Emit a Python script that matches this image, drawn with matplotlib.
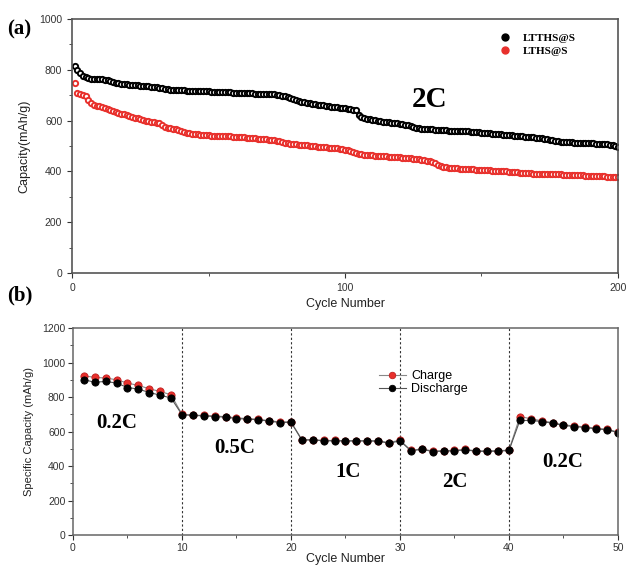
import matplotlib
matplotlib.use('Agg')
import matplotlib.pyplot as plt
import numpy as np
from matplotlib.ticker import MultipleLocator

# ---- panel (a) data: 2C long cycling ----
cycles_a = np.arange(1, 201)
ltths = [815, 800, 787, 777, 770, 766, 764, 763, 763, 762,
         762, 761, 758, 754, 751, 749, 747, 746, 745, 744,
         742, 741, 740, 739, 738, 737, 736, 735, 734, 733,
         731, 729, 727, 725, 723, 722, 721, 720, 720, 719,
         719, 718, 718, 717, 717, 716, 716, 716, 715, 715,
         714, 714, 713, 713, 712, 712, 711, 711, 710, 710,
         709, 709, 708, 708, 707, 707, 706, 706, 705, 705,
         704, 704, 703, 703, 702, 700, 698, 695, 692, 689,
         686, 682, 678, 675, 673, 671, 669, 667, 665, 663,
         662, 660, 658, 657, 655, 653, 652, 650, 649, 648,
         646, 645, 643, 640, 622, 615, 611, 608, 605, 603,
         601, 599, 598, 596, 595, 593, 592, 590, 589, 587,
         585, 583, 581, 578, 575, 572, 570, 568, 567, 566,
         565, 565, 564, 563, 563, 562, 562, 561, 561, 560,
         560, 559, 559, 558, 558, 557, 556, 555, 554, 553,
         552, 551, 550, 549, 548, 547, 546, 545, 544, 543,
         542, 541, 540, 539, 538, 537, 536, 535, 534, 533,
         532, 530, 528, 526, 524, 522, 520, 518, 517, 516,
         515, 514, 514, 513, 513, 512, 512, 511, 511, 510,
         510, 509, 509, 508, 507, 506, 504, 502, 500, 497]
lths = [749, 707, 706, 702, 695, 680, 668, 662, 659, 656,
        653, 650, 646, 642, 638, 634, 630, 627, 625, 622,
        618, 614, 611, 609, 607, 604, 600, 597, 595, 593,
        591, 589, 584, 575, 570, 569, 567, 565, 562, 558,
        555, 552, 550, 548, 547, 546, 545, 544, 543, 542,
        541, 541, 540, 540, 539, 539, 538, 538, 537, 537,
        536, 535, 534, 533, 532, 531, 530, 529, 528, 527,
        526, 525, 524, 523, 521, 519, 516, 513, 510, 508,
        507, 506, 505, 504, 503, 502, 501, 500, 499, 498,
        497, 496, 495, 494, 493, 492, 491, 490, 488, 486,
        483, 480, 476, 472, 469, 467, 466, 465, 464, 463,
        462, 461, 460, 460, 459, 458, 457, 456, 455, 455,
        454, 453, 452, 451, 450, 449, 448, 446, 444, 442,
        440, 437, 432, 426, 421, 418, 416, 415, 414, 413,
        412, 411, 411, 410, 410, 409, 408, 407, 406, 405,
        405, 404, 404, 403, 403, 402, 402, 401, 400, 399,
        398, 397, 396, 395, 394, 393, 392, 392, 391, 391,
        390, 390, 390, 389, 389, 389, 388, 388, 388, 387,
        387, 386, 386, 385, 385, 384, 384, 383, 383, 382,
        382, 381, 381, 380, 380, 379, 379, 378, 378, 378]

# ---- panel (b) data: rate performance ----
cycles_b = np.arange(1, 51)
charge = [923, 914, 910, 900, 881, 867, 848, 832, 813, 700,
          695, 693, 690, 686, 679, 675, 671, 663, 655, 656,
          553, 553, 548, 548, 547, 547, 547, 546, 536, 550,
          491, 499, 487, 489, 491, 496, 488, 488, 489, 492,
          687, 674, 662, 652, 639, 632, 627, 619, 613, 597]
discharge = [900, 886, 890, 881, 855, 846, 826, 811, 794, 698,
             693, 691, 687, 683, 675, 672, 668, 660, 652, 654,
             550, 551, 546, 546, 545, 545, 545, 544, 532, 546,
             488, 497, 484, 486, 488, 494, 485, 485, 486, 490,
             664, 664, 658, 648, 635, 629, 623, 615, 610, 594]
rate_breaks = [10, 20, 30, 40]
rate_labels = ['0.2C', '0.5C', '1C', '2C', '0.2C']
rate_label_x = [4.0, 14.8, 25.2, 35.0, 44.9]
rate_label_y = [649, 504, 365, 307, 423]

plt.rcParams['font.family'] = ['Liberation Sans', 'DejaVu Sans']
serif = ['Liberation Serif', 'DejaVu Serif']

fig = plt.figure(figsize=(6.29, 5.67), dpi=100)

# ---------- (a) ----------
ax1 = fig.add_axes([0.1145, 0.5185, 0.868, 0.448])
ax1.plot(cycles_a, ltths, 'o', ms=3.8, mfc='white', mec='black', mew=1.4,
         label='LTTHS@S')
ax1.plot(cycles_a, lths, 'o', ms=3.8, mfc='white', mec='#e8302c', mew=1.4,
         label='LTHS@S')
ax1.set_xlim(0, 200)
ax1.set_ylim(0, 1000)
ax1.xaxis.set_major_locator(MultipleLocator(100))
ax1.xaxis.set_minor_locator(MultipleLocator(50))
ax1.yaxis.set_major_locator(MultipleLocator(200))
ax1.yaxis.set_minor_locator(MultipleLocator(100))
ax1.tick_params(which='both', direction='out', labelsize=7.5, colors='#333333')
ax1.tick_params(which='major', length=3.5)
ax1.tick_params(which='minor', length=2)
ax1.set_xlabel('Cycle Number', fontsize=9, color='#222222', labelpad=4)
ax1.set_ylabel('Capacity(mAh/g)', fontsize=9, color='#222222', labelpad=6)
for s in ax1.spines.values():
    s.set_color('#555555')
    s.set_linewidth(1.2)
h = [plt.Line2D([], [], ls='', marker='o', ms=5, mfc='black', mec='black'),
     plt.Line2D([], [], ls='', marker='o', ms=5, mfc='#e8302c', mec='#e8302c')]
leg = ax1.legend(h, ['LTTHS@S', 'LTHS@S'], loc='center left',
                 bbox_to_anchor=(0.755, 0.9), frameon=False, handletextpad=0.6,
                 labelspacing=0.3, prop={'family': serif, 'weight': 'bold', 'size': 8})
ax1.text(131, 683, '2C', fontsize=21, fontweight='bold', family=serif,
         ha='center', va='center')
fig.text(0.012, 0.948, '(a)', fontsize=15, fontweight='bold', family=serif,
         ha='left', va='center')

# ---------- (b) ----------
ax2 = fig.add_axes([0.116, 0.0564, 0.8665, 0.3651])
for xb in rate_breaks:
    ax2.axvline(xb, color='#333333', ls=(0, (2, 2)), lw=0.8)
ax2.plot(cycles_b, charge, '-o', color='#888888', lw=0.8, ms=5.2,
         mfc='#e8302c', mec='#c02020', mew=0.6, label='Charge')
ax2.plot(cycles_b, discharge, '-o', color='#555555', lw=0.8, ms=5.2,
         mfc='black', mec='black', mew=0.6, label='Discharge')
ax2.set_xlim(0, 50)
ax2.set_ylim(0, 1200)
ax2.xaxis.set_major_locator(MultipleLocator(10))
ax2.xaxis.set_minor_locator(MultipleLocator(5))
ax2.yaxis.set_major_locator(MultipleLocator(200))
ax2.yaxis.set_minor_locator(MultipleLocator(100))
ax2.tick_params(which='both', direction='out', labelsize=7.5, colors='#333333',
                pad=2)
ax2.tick_params(which='major', length=3.5)
ax2.tick_params(which='minor', length=2)
ax2.set_xlabel('Cycle Number', fontsize=9, color='#222222', labelpad=0)
ax2.set_ylabel('Specific Capacity (mAh/g)', fontsize=8, color='#222222',
               labelpad=6)
for s in ax2.spines.values():
    s.set_color('#666666')
    s.set_linewidth(1.1)
ax2.legend(loc='center left', bbox_to_anchor=(0.54, 0.735), frameon=False,
           fontsize=9, handlelength=2.2, handletextpad=0.4, labelspacing=0.1,
           markerscale=0.9)
for lab, lx, ly in zip(rate_labels, rate_label_x, rate_label_y):
    ax2.text(lx, ly, lab, fontsize=15, fontweight='bold', family=serif,
             ha='center', va='center')
fig.text(0.012, 0.478, '(b)', fontsize=15, fontweight='bold', family=serif,
         ha='left', va='center')

fig.savefig('out.png', dpi=100)
